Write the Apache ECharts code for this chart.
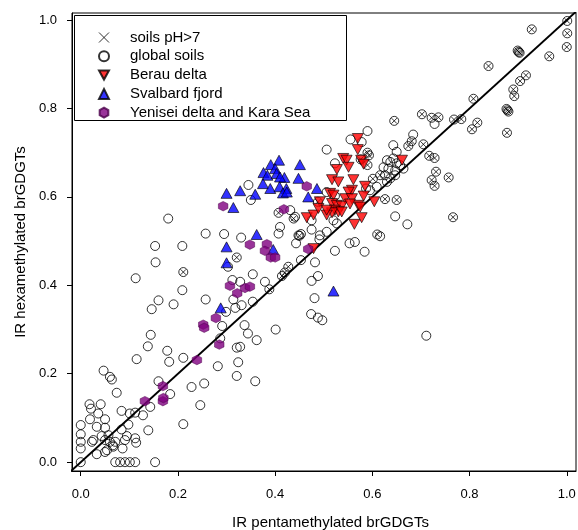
<!DOCTYPE html>
<html>
<head>
<meta charset="utf-8">
<script src="https://cdn.jsdelivr.net/npm/echarts@6/dist/echarts.min.js"></script>
<style>html,body{margin:0;padding:0;background:#fff}#c{width:578px;height:530px}</style>
</head>
<body>
<div id="c"></div>
<script>
// plain global soils
const globalSoils = [
[0.144,0.288],[0.138,0.262],[0.178,0.252],[0.115,0.233],[0.182,0.227],[0.211,0.236],[0.282,0.217],[0.321,0.259],[0.324,0.226],[0.321,0.195],
[0.047,0.207],[0.060,0.193],[0.064,0.187],[0.074,0.157],[0.160,0.183],[0.184,0.154],[0.228,0.170],[0.254,0.178],[0.246,0.129],[0.143,0.125],
[0.084,0.116],[0.101,0.110],[0.112,0.112],[0.128,0.106],[0.018,0.131],[0.021,0.121],[0.041,0.131],[0.036,0.110],[0.050,0.097],[0.019,0.097],
[0.033,0.080],[0.050,0.078],[0.000,0.084],[0.000,0.063],[0.000,0.046],[0.000,0.031],[0.026,0.050],[0.043,0.059],[0.057,0.061],[0.060,0.046],
[0.066,0.038],[0.050,0.050],[0.084,0.074],[0.095,0.059],[0.091,0.050],[0.098,0.085],[0.112,0.054],[0.114,0.044],[0.139,0.072],[0.211,0.086],
[0.086,0.031],[0.054,0.027],[0.033,0.018],[0.000,0.000],[0.071,0.000],[0.081,0.000],[0.091,0.000],[0.101,0.000],[0.112,0.000],[0.153,0.000],
[0.023,0.046],[0.071,0.046],[0.067,0.035],[0.050,0.023],
[0.180,0.551],[0.153,0.489],[0.209,0.489],[0.154,0.452],[0.113,0.416],[0.209,0.389],[0.160,0.366],[0.146,0.346],[0.191,0.357],
[0.257,0.517],[0.295,0.516],[0.330,0.508],[0.257,0.368],[0.303,0.442],[0.354,0.425],[0.379,0.408],[0.312,0.412],[0.410,0.532],[0.407,0.517],
[0.448,0.513],[0.443,0.495],[0.350,0.593],[0.431,0.570],[0.441,0.555],[0.318,0.349],[0.331,0.355],[0.354,0.363],[0.299,0.340],[0.291,0.308],
[0.337,0.310],[0.344,0.291],[0.362,0.276],[0.328,0.261],[0.401,0.300],[0.287,0.280],
[0.481,0.371],[0.474,0.335],[0.488,0.327],[0.497,0.321],[0.359,0.183],[0.711,0.286],
[0.453,0.516],[0.492,0.513],[0.523,0.478],[0.553,0.495],[0.564,0.498],[0.584,0.476],[0.482,0.452],[0.488,0.421],[0.475,0.410],[0.453,0.457],
[0.345,0.627],[0.475,0.526],[0.491,0.504],[0.506,0.521],[0.328,0.408],[0.314,0.368],[0.506,0.611],[0.523,0.602],[0.506,0.707],[0.523,0.676],
[0.520,0.547],[0.527,0.540],[0.475,0.547],
[0.590,0.749],[0.555,0.730],[0.578,0.724],[0.643,0.717],[0.650,0.702],[0.684,0.741],
[0.630,0.683],[0.637,0.679],[0.643,0.687],[0.650,0.676],[0.623,0.667],[0.633,0.664],[0.647,0.660],[0.657,0.672],[0.664,0.664],[0.626,0.649],
[0.637,0.642],[0.647,0.649],[0.630,0.634],[0.609,0.623],[0.647,0.556],[0.672,0.538],[0.595,0.615],[0.587,0.619],[0.728,0.765],[0.616,0.511]
];
// soils with pH>7 (drawn as circle + cross)
const alkalineSoils = [
[1.001,0.998],[0.928,0.979],[1.001,0.970],[1.000,0.939],[0.901,0.928],[0.899,0.931],[0.903,0.926],[0.964,0.918],[0.839,0.896],[0.916,0.875],
[0.904,0.862],[0.890,0.843],[0.892,0.828],[0.808,0.822],[0.878,0.796],[0.876,0.799],[0.880,0.793],[0.702,0.787],[0.722,0.779],[0.736,0.780],
[0.768,0.775],[0.783,0.776],[0.645,0.772],[0.816,0.768],[0.805,0.753],[0.877,0.745],[0.681,0.726],[0.674,0.715],[0.705,0.719],[0.717,0.693],
[0.728,0.688],[0.731,0.657],[0.722,0.638],[0.728,0.625],[0.757,0.644],[0.626,0.595],[0.650,0.593],[0.766,0.554],[0.610,0.515],[0.601,0.641],
[0.590,0.700],[0.593,0.694],[0.576,0.685],[0.590,0.672],[0.616,0.649],[0.488,0.589],[0.407,0.564],[0.438,0.551],[0.450,0.512],[0.321,0.463],
[0.211,0.430],[0.427,0.442],[0.420,0.429],[0.414,0.421],[0.388,0.391]
];
const berauDelta = [
[0.570,0.732],[0.570,0.707],[0.540,0.687],[0.547,0.683],[0.551,0.667],[0.527,0.662],[0.577,0.683],[0.582,0.674],[0.517,0.639],[0.530,0.634],
[0.561,0.639],[0.585,0.624],[0.558,0.615],[0.551,0.611],[0.513,0.608],[0.520,0.604],[0.544,0.596],[0.558,0.596],[0.582,0.602],[0.604,0.589],
[0.517,0.585],[0.527,0.581],[0.537,0.579],[0.571,0.581],[0.575,0.577],[0.554,0.584],[0.523,0.570],[0.530,0.566],[0.517,0.564],[0.506,0.559],
[0.465,0.553],[0.479,0.559],[0.578,0.553],[0.563,0.538],[0.661,0.683],[0.479,0.483],[0.492,0.589],[0.489,0.574],[0.506,0.570],[0.537,0.566]
];
const svalbardFjord = [
[0.391,0.673],[0.408,0.683],[0.451,0.673],[0.376,0.655],[0.384,0.649],[0.400,0.664],[0.403,0.653],[0.419,0.644],[0.410,0.645],[0.375,0.630],
[0.390,0.619],[0.409,0.623],[0.423,0.619],[0.416,0.609],[0.424,0.611],[0.448,0.642],[0.486,0.619],[0.468,0.600],[0.300,0.608],[0.328,0.614],
[0.359,0.606],[0.314,0.576],[0.362,0.515],[0.300,0.487],[0.396,0.481],[0.300,0.451],[0.520,0.387],[0.288,0.349]
];
const yeniseiKara = [
[0.293,0.579],[0.418,0.572],[0.465,0.624],[0.348,0.492],[0.383,0.493],[0.379,0.478],[0.391,0.463],[0.400,0.463],[0.307,0.399],[0.322,0.382],
[0.338,0.394],[0.348,0.397],[0.278,0.326],[0.252,0.311],[0.254,0.304],[0.285,0.266],[0.239,0.231],[0.468,0.482],[0.169,0.172],[0.132,0.138],
[0.169,0.138],[0.170,0.145]
];
const oneToOne = [[-0.05,-0.05],[1.05,1.05]];
const tickValues = [0, 0.2, 0.4, 0.6, 0.8, 1.0];

const FONT = '"Liberation Sans", Arial, sans-serif';
const triDown = 'path://M0,0L10,0L5,9Z';
const hexagon = 'path://M5,0L9.33,2.5L9.33,7.5L5,10L0.67,7.5L0.67,2.5Z';
const cross = 'path://M0,0L10,10M10,0L0,10';

const chart = echarts.init(document.getElementById('c'), null, {renderer: 'canvas'});
chart.setOption({
  animation: false,
  backgroundColor: '#fff',
  grid: {left: 72, right: 2, top: 13, bottom: 59, show: true, borderColor: '#000', borderWidth: 1,
         containLabel: false, outerBoundsMode: 'none'},
  legend: {
    left: 98, top: 30, orient: 'vertical', padding: 0,
    itemWidth: 10, itemHeight: 10, itemGap: 3.8,
    textStyle: {fontFamily: FONT, fontSize: 15, color: '#000', lineHeight: 15, padding: [0, 0, 0, 16]},
    data: [
      {name: 'soils pH>7', itemStyle: {borderWidth: 1}},
      {name: 'global soils'},
      {name: 'Berau delta'},
      {name: 'Svalbard fjord'},
      {name: 'Yenisei delta and Kara Sea'}
    ]
  },
  graphic: [{type: 'rect', shape: {x: 74.5, y: 15.5, width: 272, height: 105}, style: {fill: 'none', stroke: '#000', lineWidth: 1}, z: 10}],
  xAxis: {
    type: 'value', min: -0.018, max: 1.019,
    name: 'IR pentamethylated brGDGTs', nameLocation: 'middle', nameGap: 44,
    nameTextStyle: {fontFamily: FONT, fontSize: 15, color: '#000', padding: [0, 0, 0, 13]},
    axisLine: {show: true, onZero: false, lineStyle: {color: '#000', width: 1}},
    axisTick: {show: true, length: 5, lineStyle: {color: '#000'}, customValues: tickValues},
    axisLabel: {fontFamily: FONT, fontSize: 13, color: '#000', margin: 17, customValues: tickValues, formatter: v => v.toFixed(1)},
    splitLine: {show: false}
  },
  yAxis: {
    type: 'value', min: -0.020, max: 1.016,
    name: 'IR hexamethylated brGDGTs', nameLocation: 'middle', nameGap: 37,
    nameTextStyle: {fontFamily: FONT, fontSize: 15, color: '#000'},
    axisLine: {show: true, onZero: false, lineStyle: {color: '#000', width: 1}},
    axisTick: {show: true, length: 5, lineStyle: {color: '#000'}, customValues: tickValues},
    axisLabel: {fontFamily: FONT, fontSize: 13, color: '#000', margin: 15, customValues: tickValues, formatter: v => v.toFixed(1)},
    splitLine: {show: false}
  },
  series: [
    {name: 'global soils', type: 'scatter', symbol: 'circle', symbolSize: 9, z: 2,
     data: globalSoils.concat(alkalineSoils),
     itemStyle: {color: 'transparent', borderColor: '#000', borderWidth: 1}},
    {name: 'soils pH>7', type: 'scatter', symbol: cross, symbolSize: 5.5, z: 3,
     data: alkalineSoils,
     itemStyle: {color: 'transparent', borderColor: '#000', borderWidth: 1}},
    {name: '1:1', type: 'line', data: oneToOne, symbol: 'none', z: 4, clip: true,
     lineStyle: {color: '#000', width: 2}, silent: true},
    {name: 'Berau delta', type: 'scatter', symbol: triDown, symbolSize: [11, 10], z: 5,
     data: berauDelta,
     itemStyle: {color: '#ff0000', borderColor: '#000', borderWidth: 0.8}},
    {name: 'Svalbard fjord', type: 'scatter', symbol: 'triangle', symbolSize: [11, 10], z: 6,
     data: svalbardFjord,
     itemStyle: {color: '#0000ff', borderColor: '#000', borderWidth: 0.8}},
    {name: 'Yenisei delta and Kara Sea', type: 'scatter', symbol: hexagon, symbolSize: 9.5, z: 7,
     data: yeniseiKara,
     itemStyle: {color: '#800080', borderColor: '#4a004a', borderWidth: 0.6}}
  ]
});
</script>
</body>
</html>
